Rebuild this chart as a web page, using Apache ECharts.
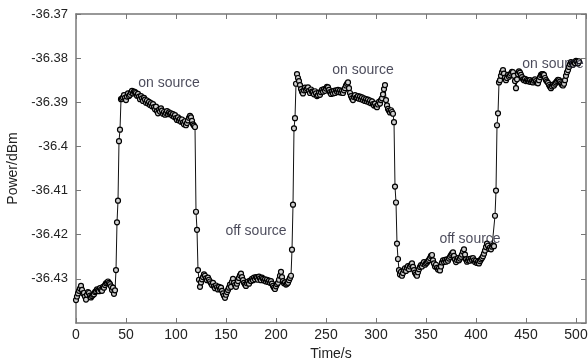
<!DOCTYPE html>
<html>
<head>
<meta charset="utf-8">
<script src="https://cdn.jsdelivr.net/npm/echarts@6/dist/echarts.min.js"></script>
<style>html,body{margin:0;padding:0;background:#fff}#c{width:588px;height:363px}</style>
</head>
<body>
<div id="c"></div>
<script>
// sampling: one reading per second starting at t = 0 s
const timeStart = 0;
const timeStep = 1;
// Power readings (dBm), t = 0 .. 503 s
const power = [
// 0-39 off source
-36.4348,-36.4340,-36.4333,-36.4327,-36.4322,-36.4316,-36.4325,-36.4333,-36.4332,-36.4340,
-36.4347,-36.4336,-36.4330,-36.4332,-36.4338,-36.4342,-36.4339,-36.4336,-36.4335,-36.4330,
-36.4328,-36.4324,-36.4326,-36.4328,-36.4321,-36.4325,-36.4327,-36.4318,-36.4320,-36.4314,
-36.4310,-36.4309,-36.4306,-36.4309,-36.4312,-36.4317,-36.4325,-36.4320,-36.4334,-36.4326,
// 40-45 rise
-36.4280,-36.4172,-36.4123,-36.3988,-36.3962,-36.3893,
// 46-119 on source
-36.3892,-36.3889,-36.3884,-36.3890,-36.3895,-36.3887,-36.3880,-36.3886,-36.3883,-36.3878,
-36.3874,-36.3880,-36.3876,-36.3877,-36.3879,-36.3885,-36.3881,-36.3887,-36.3893,-36.3886,
-36.3891,-36.3897,-36.3890,-36.3894,-36.3901,-36.3896,-36.3903,-36.3899,-36.3906,-36.3902,
-36.3909,-36.3904,-36.3911,-36.3916,-36.3910,-36.3920,-36.3925,-36.3917,-36.3921,-36.3914,
-36.3919,-36.3926,-36.3922,-36.3928,-36.3924,-36.3920,-36.3927,-36.3923,-36.3926,-36.3925,
-36.3930,-36.3927,-36.3933,-36.3929,-36.3936,-36.3940,-36.3934,-36.3941,-36.3938,-36.3944,
-36.3939,-36.3946,-36.3950,-36.3943,-36.3952,-36.3947,-36.3941,-36.3935,-36.3931,-36.3934,
-36.3942,-36.3950,-36.3953,-36.3956,
// 120-123 fall
-36.4148,-36.4189,-36.4280,-36.4302,
// 124-215 off source
-36.4318,-36.4308,-36.4301,-36.4296,-36.4290,-36.4293,-36.4299,-36.4303,-36.4297,-36.4302,
-36.4306,-36.4310,-36.4314,-36.4309,-36.4317,-36.4321,-36.4315,-36.4319,-36.4324,-36.4318,
-36.4323,-36.4320,-36.4327,-36.4333,-36.4338,-36.4343,-36.4336,-36.4330,-36.4325,-36.4320,
-36.4313,-36.4318,-36.4307,-36.4300,-36.4309,-36.4314,-36.4318,-36.4311,-36.4305,-36.4298,
-36.4292,-36.4288,-36.4296,-36.4303,-36.4309,-36.4313,-36.4316,-36.4310,-36.4306,-36.4311,
-36.4304,-36.4305,-36.4300,-36.4303,-36.4297,-36.4301,-36.4296,-36.4298,-36.4302,-36.4295,
-36.4299,-36.4303,-36.4297,-36.4300,-36.4304,-36.4301,-36.4306,-36.4302,-36.4307,-36.4304,
-36.4309,-36.4305,-36.4311,-36.4316,-36.4320,-36.4323,-36.4317,-36.4312,-36.4309,-36.4302,
-36.4293,-36.4284,-36.4296,-36.4305,-36.4310,-36.4308,-36.4313,-36.4311,-36.4309,-36.4303,
-36.4298,-36.4293,
// 216-221 rise
-36.4234,-36.4132,-36.3959,-36.3936,-36.3858,-36.3836,
// 222-318 on source
-36.3845,-36.3852,-36.3861,-36.3870,-36.3876,-36.3880,-36.3873,-36.3867,-36.3872,-36.3869,
-36.3866,-36.3874,-36.3879,-36.3871,-36.3876,-36.3877,-36.3882,-36.3875,-36.3880,-36.3886,
-36.3884,-36.3878,-36.3883,-36.3877,-36.3872,-36.3876,-36.3870,-36.3874,-36.3869,-36.3865,
-36.3866,-36.3872,-36.3877,-36.3881,-36.3876,-36.3880,-36.3874,-36.3879,-36.3873,-36.3876,
-36.3872,-36.3877,-36.3873,-36.3878,-36.3874,-36.3879,-36.3873,-36.3868,-36.3862,-36.3858,
-36.3855,-36.3868,-36.3879,-36.3886,-36.3891,-36.3895,-36.3888,-36.3884,-36.3890,-36.3889,
-36.3886,-36.3892,-36.3887,-36.3893,-36.3889,-36.3895,-36.3891,-36.3897,-36.3893,-36.3898,
-36.3894,-36.3900,-36.3896,-36.3902,-36.3898,-36.3904,-36.3907,-36.3903,-36.3909,-36.3911,
-36.3905,-36.3899,-36.3903,-36.3895,-36.3891,-36.3882,-36.3870,-36.3861,-36.3895,-36.3907,
-36.3915,-36.3919,-36.3923,-36.3918,-36.3922,-36.3926,-36.3945,
// 319-323 fall
-36.4091,-36.4127,-36.4220,-36.4255,-36.4280,
// 324-418 off source
-36.4290,-36.4284,-36.4293,-36.4287,-36.4280,-36.4276,-36.4282,-36.4275,-36.4271,-36.4278,
-36.4272,-36.4268,-36.4265,-36.4273,-36.4280,-36.4286,-36.4290,-36.4293,-36.4285,-36.4278,
-36.4273,-36.4269,-36.4272,-36.4266,-36.4262,-36.4268,-36.4265,-36.4263,-36.4260,-36.4257,
-36.4253,-36.4248,-36.4246,-36.4258,-36.4265,-36.4272,-36.4268,-36.4275,-36.4279,-36.4276,
-36.4281,-36.4272,-36.4263,-36.4258,-36.4262,-36.4257,-36.4261,-36.4256,-36.4259,-36.4254,
-36.4250,-36.4246,-36.4243,-36.4240,-36.4248,-36.4256,-36.4262,-36.4257,-36.4253,-36.4258,
-36.4254,-36.4250,-36.4245,-36.4238,-36.4233,-36.4245,-36.4256,-36.4261,-36.4258,-36.4255,
-36.4259,-36.4254,-36.4257,-36.4253,-36.4258,-36.4262,-36.4259,-36.4264,-36.4261,-36.4265,
-36.4260,-36.4256,-36.4253,-36.4249,-36.4243,-36.4236,-36.4228,-36.4220,-36.4225,-36.4232,
-36.4229,-36.4233,-36.4227,-36.4224,-36.4226,
// 419-423 rise
-36.4157,-36.4100,-36.3952,-36.3925,-36.3855,
// 424-503 on source
-36.3850,-36.3840,-36.3832,-36.3827,-36.3835,-36.3844,-36.3850,-36.3845,-36.3838,-36.3842,
-36.3839,-36.3835,-36.3831,-36.3832,-36.3840,-36.3852,-36.3868,-36.3848,-36.3836,-36.3830,
-36.3833,-36.3838,-36.3843,-36.3848,-36.3850,-36.3847,-36.3852,-36.3849,-36.3851,-36.3853,
-36.3850,-36.3854,-36.3852,-36.3855,-36.3851,-36.3848,-36.3852,-36.3856,-36.3857,-36.3850,
-36.3843,-36.3838,-36.3836,-36.3836,-36.3838,-36.3845,-36.3850,-36.3853,-36.3856,-36.3861,
-36.3865,-36.3868,-36.3864,-36.3860,-36.3862,-36.3858,-36.3855,-36.3852,-36.3849,-36.3850,
-36.3853,-36.3857,-36.3860,-36.3862,-36.3858,-36.3850,-36.3840,-36.3832,-36.3827,-36.3820,
-36.3814,-36.3809,-36.3812,-36.3815,-36.3810,-36.3811,-36.3806,-36.3808,-36.3812,-36.3807
];

// Annotations
const annoText  = ['on source', 'off source', 'on source', 'off source', 'on source'];
const annoTime  = [93, 180, 287, 394, 477];
const annoPower = [-36.3857, -36.4193, -36.3827, -36.4211, -36.3814];

// Axis settings
const xMin = 0, xMax = 510, xStep = 50;
const yMin = -36.44, yMax = -36.37, yStep = 0.01;

const FONT = "'Liberation Sans', Arial, sans-serif";
const AXC = '#777';

const seriesData = power.map((v, i) => [timeStart + i * timeStep, v]);
const annoData = annoText.map((t, i) => ({ name: t, value: [annoTime[i], annoPower[i]] }));

const chart = echarts.init(document.getElementById('c'), null, { renderer: 'canvas' });

const boxAxis = (pos) => ({
  position: pos,
  axisLine: { show: true, onZero: false, lineStyle: { color: AXC, width: 1.5 } },
  axisTick: { show: true, inside: true, length: 5, lineStyle: { color: AXC, width: 1 } },
  axisLabel: { show: false },
  splitLine: { show: false }
});

chart.setOption({
  animation: false,
  backgroundColor: '#fff',
  grid: { left: 76, right: 2, top: 14, bottom: 40, containLabel: false, outerBoundsMode: 'none' },
  xAxis: [
    Object.assign(boxAxis('bottom'), {
      type: 'value', min: xMin, max: xMax, interval: xStep,
      name: 'Time/s', nameLocation: 'middle', nameGap: 21,
      nameTextStyle: { fontFamily: FONT, fontSize: 14, color: '#222' },
      axisLabel: { show: true, margin: 5, fontFamily: FONT, fontSize: 14, color: '#222', showMaxLabel: false }
    }),
    Object.assign(boxAxis('top'), { type: 'value', min: xMin, max: xMax, interval: xStep })
  ],
  yAxis: [
    Object.assign(boxAxis('left'), {
      type: 'value', min: yMin, max: yMax, interval: yStep,
      name: 'Power/dBm', nameLocation: 'middle', nameGap: 48, nameRotate: 90,
      nameTextStyle: { fontFamily: FONT, fontSize: 14, color: '#222' },
      axisLabel: { show: true, margin: 8, fontFamily: FONT, fontSize: 13, color: '#222', showMinLabel: false }
    }),
    Object.assign(boxAxis('right'), { type: 'value', min: yMin, max: yMax, interval: yStep })
  ],
  series: [
    {
      type: 'line',
      data: seriesData,
      symbol: 'circle',
      symbolSize: 5,
      showAllSymbol: true,
      lineStyle: { color: '#111', width: 1 },
      itemStyle: { color: '#d0d0d0', borderColor: '#000', borderWidth: 1.2 },
      z: 2
    },
    {
      type: 'scatter',
      data: annoData,
      symbolSize: 0,
      label: {
        show: true, position: 'inside', formatter: '{b}',
        fontFamily: FONT, fontSize: 14, color: '#1c1c30'
      },
      z: 5
    }
  ]
});
</script>
</body>
</html>
